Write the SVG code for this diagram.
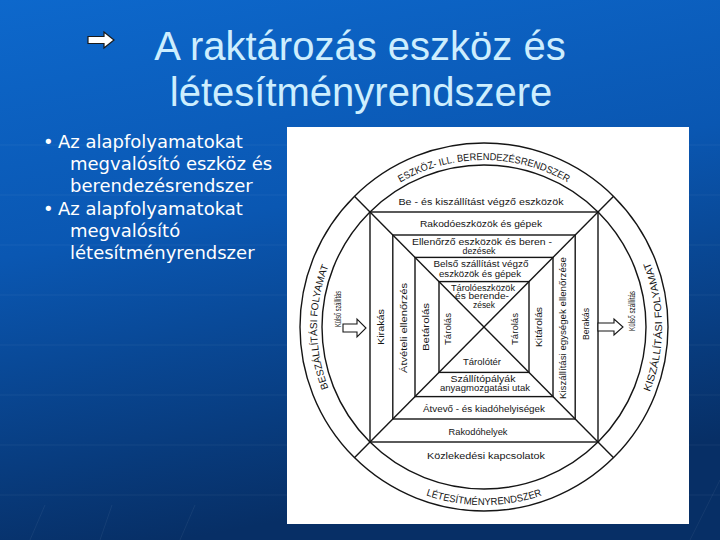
<svg xmlns="http://www.w3.org/2000/svg" width="720" height="540" viewBox="0 0 720 540">
<defs>
<linearGradient id="bg" x1="0" y1="0" x2="0.25" y2="1">
<stop offset="0" stop-color="#0d68cc"/>
<stop offset="0.45" stop-color="#0a57b2"/>
<stop offset="1" stop-color="#072f66"/>
</linearGradient>
<path id="pTop" d="M388.2,190.2 A167,167 0 0 1 579.8,190.2"/>
<path id="pBot" d="M400.4,484.2 A178,178 0 0 0 567.6,484.2"/>
<path id="pLeft" d="M339.4,410.5 A167,167 0 0 1 339.4,243.5"/>
<path id="pRight" d="M638.2,416 A178,178 0 0 0 638.2,238"/>
<style>
.title{font-family:"Liberation Sans",Arial,sans-serif;font-size:40px;fill:#cdeefe;text-anchor:middle}
.bul{font-family:"DejaVu Sans",Verdana,sans-serif;font-size:18px;fill:#ffffff}
.ln{fill:none;stroke:#151515;stroke-width:1.4}
.lb{font-family:"Liberation Sans",Arial,sans-serif;font-size:9.2px;fill:#151515;text-anchor:middle}
.ring{font-family:"Liberation Sans",Arial,sans-serif;font-size:10px;fill:#151515;text-anchor:middle}
.grid{stroke:#ffffff;stroke-opacity:0.06;stroke-width:1}
.arr{fill:#ffffff;stroke:#151515;stroke-width:1.1}
</style>
</defs>
<rect x="0" y="0" width="720" height="540" fill="url(#bg)"/>
<g id="bg-grid">
<line class="grid" x1="0" y1="145" x2="720" y2="145"/>
<line class="grid" x1="0" y1="195" x2="720" y2="195"/>
<line class="grid" x1="0" y1="245" x2="720" y2="245"/>
<line class="grid" x1="0" y1="295" x2="720" y2="295"/>
<line class="grid" x1="0" y1="345" x2="720" y2="345"/>
<line class="grid" x1="0" y1="395" x2="720" y2="395"/>
<line class="grid" x1="0" y1="445" x2="720" y2="445"/>
<line class="grid" x1="0" y1="495" x2="720" y2="495"/>
<line class="grid" x1="30" y1="540" x2="45" y2="505"/>
<line class="grid" x1="100" y1="540" x2="112" y2="505"/>
<line class="grid" x1="180" y1="540" x2="195" y2="505"/>
<line class="grid" x1="690" y1="540" x2="720" y2="480"/>
</g>
<g id="title">
<polygon points="88,36.5 104,36.5 104,32 114,40 104,48 104,43.5 88,43.5" fill="#ffffff" stroke="#1a1a1a" stroke-width="1.2"/>
<text class="title" x="360" y="60">A raktározás eszköz és</text>
<text class="title" x="361" y="106">létesítményrendszere</text>
</g>
<g id="bullets">
<text class="bul" x="43" y="148">•</text>
<text class="bul" x="58" y="148">Az alapfolyamatokat</text>
<text class="bul" x="70" y="170">megvalósító eszköz és</text>
<text class="bul" x="70" y="192">berendezésrendszer</text>
<text class="bul" x="43" y="215">•</text>
<text class="bul" x="58" y="215">Az alapfolyamatokat</text>
<text class="bul" x="70" y="237">megvalósító</text>
<text class="bul" x="70" y="259">létesítményrendszer</text>
</g>
<rect id="panel" x="287" y="127" width="402" height="397" fill="#ffffff"/>
<g id="circles">
<circle class="ln" cx="484" cy="327" r="184"/>
<circle class="ln" cx="484" cy="327" r="162"/>
</g>
<g id="connectors">
<line class="ln" x1="354.4" y1="196.3" x2="613.6" y2="457.7"/>
<line class="ln" x1="613.6" y1="196.3" x2="354.4" y2="457.7"/>
</g>
<g id="squares">
<rect class="ln" x="370" y="212" width="228" height="230"/>
<rect class="ln" x="392.8" y="235" width="182.4" height="184"/>
<rect class="ln" x="415" y="257.4" width="138" height="139.2"/>
<rect class="ln" x="439" y="281.6" width="90" height="90.8"/>
</g>
<g id="ring-eszkoz"><text class="ring"><textPath href="#pTop" startOffset="50%" textLength="175" lengthAdjust="spacingAndGlyphs">ESZKÖZ- ILL. BERENDEZÉSRENDSZER</textPath></text></g>
<g id="ring-letesitmeny"><text class="ring"><textPath href="#pBot" startOffset="50%" textLength="118" lengthAdjust="spacingAndGlyphs">LÉTESÍTMÉNYRENDSZER</textPath></text></g>
<g id="ring-beszallitas"><text class="ring"><textPath href="#pLeft" startOffset="50%" textLength="125" lengthAdjust="spacingAndGlyphs">BESZÁLLÍTÁSI FOLYAMAT</textPath></text></g>
<g id="ring-kiszallitas"><text class="ring"><textPath href="#pRight" startOffset="50%" textLength="133" lengthAdjust="spacingAndGlyphs">KISZÁLLÍTÁSI FOLYAMAT</textPath></text></g>
<g id="top-bands">
<text class="lb" x="481" y="205" textLength="165" lengthAdjust="spacingAndGlyphs">Be - és kiszállítást végző eszközök</text>
<text class="lb" x="481" y="226.5" textLength="122" lengthAdjust="spacingAndGlyphs">Rakodóeszközök és gépek</text>
<text class="lb" x="482" y="245" textLength="140" lengthAdjust="spacingAndGlyphs">Ellenőrző eszközök és beren -</text>
<text class="lb" x="479" y="254" textLength="33" lengthAdjust="spacingAndGlyphs">dezések</text>
<text class="lb" x="481" y="267" textLength="95" lengthAdjust="spacingAndGlyphs">Belső szállítást végző</text>
<text class="lb" x="480" y="277" textLength="82" lengthAdjust="spacingAndGlyphs">eszközök és gépek</text>
<text class="lb" x="483" y="290.5" textLength="64" lengthAdjust="spacingAndGlyphs">Tárolóeszközök</text>
<text class="lb" x="482" y="299" textLength="54" lengthAdjust="spacingAndGlyphs">és berende-</text>
<text class="lb" x="484" y="307.5" textLength="22" lengthAdjust="spacingAndGlyphs">zések</text>
</g>
<g id="bottom-bands">
<text class="lb" x="482" y="365" textLength="38" lengthAdjust="spacingAndGlyphs">Tárolótér</text>
<text class="lb" x="483" y="382" textLength="65" lengthAdjust="spacingAndGlyphs">Szállítópályák</text>
<text class="lb" x="485" y="391" textLength="90" lengthAdjust="spacingAndGlyphs">anyagmozgatási utak</text>
<text class="lb" x="484" y="412" textLength="122" lengthAdjust="spacingAndGlyphs">Átvevő - és kiadóhelyiségek</text>
<text class="lb" x="478" y="435" textLength="59" lengthAdjust="spacingAndGlyphs">Rakodóhelyek</text>
<text class="lb" x="486" y="459" textLength="118" lengthAdjust="spacingAndGlyphs">Közlekedési kapcsolatok</text>
</g>
<g id="left-side">
<text class="lb" transform="translate(341,309) rotate(-90)" textLength="36" lengthAdjust="spacingAndGlyphs">Külső szállítás</text>
<polygon class="arr" points="343,324 357,324 357,319 366,328 357,337 357,332 343,332"/>
<text class="lb" transform="translate(384,327) rotate(-90)" textLength="36" lengthAdjust="spacingAndGlyphs">Kirakás</text>
<text class="lb" transform="translate(407,328) rotate(-90)" textLength="90" lengthAdjust="spacingAndGlyphs">Átvételi ellenőrzés</text>
<text class="lb" transform="translate(429,327) rotate(-90)" textLength="48" lengthAdjust="spacingAndGlyphs">Betárolás</text>
<text class="lb" transform="translate(451,329) rotate(-90)" textLength="32" lengthAdjust="spacingAndGlyphs">Tárolás</text>
</g>
<g id="right-side">
<text class="lb" transform="translate(518,329) rotate(-90)" textLength="32" lengthAdjust="spacingAndGlyphs">Tárolás</text>
<text class="lb" transform="translate(542,327) rotate(-90)" textLength="40" lengthAdjust="spacingAndGlyphs">Kitárolás</text>
<text class="lb" transform="translate(566,328) rotate(-90)" textLength="142" lengthAdjust="spacingAndGlyphs">Kiszállítási egységek ellenőrzése</text>
<text class="lb" transform="translate(589,324) rotate(-90)" textLength="32" lengthAdjust="spacingAndGlyphs">Berakás</text>
<polygon class="arr" points="598,323 614,323 614,319 623,327 614,335 614,331 598,331"/>
<text class="lb" transform="translate(635,311) rotate(-90)" textLength="40" lengthAdjust="spacingAndGlyphs">Külső szállítás</text>
</g>
</svg>
